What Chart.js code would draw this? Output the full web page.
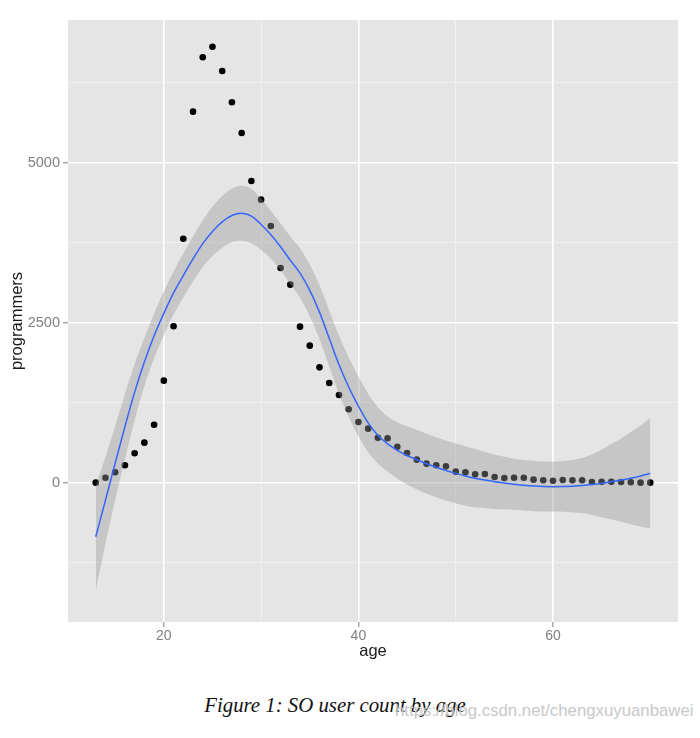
<!DOCTYPE html>
<html>
<head>
<meta charset="utf-8">
<script src="https://cdn.jsdelivr.net/npm/chart.js@4.4.1/dist/chart.umd.min.js"></script>
<style>
  body { margin: 0; background: #fff; width: 700px; height: 738px; position: relative; overflow: hidden; }
  #chart { position: absolute; left: 0; top: 0; }
  #caption { position: absolute; left: 0; width: 670px; top: 693px; text-align: center;
             font-family: "Liberation Serif", "DejaVu Serif", serif; font-style: italic; font-size: 20.8px; color: #111; }
  #mark { position: absolute; left: 395px; top: 701px; font-family: "Liberation Sans", Arial, sans-serif;
          font-size: 16.8px; color: #c8c8c8; }
</style>
</head>
<body>
<canvas id="chart" width="700" height="670"></canvas>
<div id="caption">Figure 1: SO user count by age</div>
<div id="mark">https://blog.csdn.net/chengxuyuanbawei</div>
<script>
// 나이별 사용자 수 (점)
const ages = [13, 14, 15, 16, 17, 18, 19, 20, 21, 22, 23, 24, 25, 26, 27, 28, 29, 30, 31, 32,
    33, 34, 35, 36, 37, 38, 39, 40, 41, 42, 43, 44, 45, 46, 47, 48, 49, 50, 51, 52,
    53, 54, 55, 56, 57, 58, 59, 60, 61, 62, 63, 64, 65, 66, 67, 68, 69, 70];
const programmers = [5, 83, 167, 276, 464, 630, 911, 1599, 2448, 3815, 5802, 6651, 6817, 6437, 5948, 5469, 4719, 4427, 4016, 3359,
    3099, 2443, 2146, 1807, 1562, 1375, 1151, 953, 849, 705, 698, 567, 469, 365, 302, 276, 260, 177, 167, 135,
    141, 94, 78, 83, 83, 52, 42, 36, 47, 42, 42, 16, 20, 20, 16, 11, 5, 5];

// loess 추세선과 신뢰구간 (같은 ages 기준)
const smoothLine = [-840, -270, 310, 880, 1420, 1890, 2300, 2650, 2970, 3240, 3500, 3740, 3930, 4080, 4180, 4215, 4170, 4040, 3880, 3690,
    3480, 3280, 3010, 2670, 2260, 1850, 1500, 1200, 940, 745, 610, 510, 430, 365, 300, 245, 195, 150, 110, 75,
    45, 20, 0, -20, -35, -47, -55, -57, -56, -50, -40, -25, -5, 20, 45, 75, 110, 150];
const bandUpper = [-50, 410, 890, 1390, 1860, 2270, 2650, 2990, 3305, 3580, 3850, 4105, 4315, 4485, 4600, 4645, 4595, 4440, 4255, 4055,
    3850, 3665, 3415, 3095, 2700, 2305, 1965, 1668, 1395, 1185, 1040, 950, 885, 830, 768, 713, 663, 616, 575, 530,
    485, 445, 410, 380, 360, 346, 335, 333, 339, 360, 390, 450, 525, 610, 695, 795, 900, 1010];
const bandLower = [-1680, -950, -270, 370, 980, 1510, 1950, 2310, 2635, 2900, 3150, 3375, 3545, 3675, 3760, 3785, 3745, 3640, 3505, 3325,
    3110, 2895, 2605, 2245, 1820, 1395, 1035, 732, 485, 305, 180, 70, -25, -100, -168, -223, -273, -316, -355, -380,
    -395, -405, -410, -420, -430, -440, -445, -447, -451, -460, -470, -500, -535, -570, -605, -645, -680, -710];

// 축 눈금 (주/보조)
const xTicks = [20, 30, 40, 50, 60];
const xLabeled = [20, 40, 60];
const yTicks = [-1250, 0, 1250, 2500, 3750, 5000, 6250];
const yLabeled = [0, 2500, 5000];

const toXY = vals => ages.map((a, i) => ({ x: a, y: vals[i] }));

// 패널 배경 (ggplot 회색)
const panelBg = {
    id: 'panelBg',
    beforeDraw(chart) {
        const { ctx, chartArea: a } = chart;
        ctx.save();
        ctx.fillStyle = '#E5E5E5';
        ctx.fillRect(a.left, a.top, a.right - a.left, a.bottom - a.top);
        ctx.restore();
    }
};

function gridOpts(labeled) {
    return {
        color: c => labeled.includes(c.tick.value) ? '#FFFFFF' : '#F2F2F2',
        lineWidth: c => labeled.includes(c.tick.value) ? 1.6 : 0.8,
        tickColor: c => labeled.includes(c.tick.value) ? '#7F7F7F' : 'rgba(0,0,0,0)',
        tickWidth: 1,
        tickLength: 5,
        drawTicks: true
    };
}

new Chart(document.getElementById('chart').getContext('2d'), {
    type: 'scatter',
    data: {
        datasets: [
            {
                label: 'programmers',
                data: toXY(programmers),
                pointRadius: 3.3,
                pointBackgroundColor: '#000',
                pointBorderWidth: 0,
                showLine: false,
                order: 3
            },
            {
                label: 'lower',
                data: toXY(bandLower),
                showLine: true,
                pointRadius: 0,
                borderWidth: 0,
                borderColor: 'rgba(0,0,0,0)',
                cubicInterpolationMode: 'monotone',
                fill: false,
                order: 2
            },
            {
                label: 'upper',
                data: toXY(bandUpper),
                showLine: true,
                pointRadius: 0,
                borderWidth: 0,
                borderColor: 'rgba(0,0,0,0)',
                backgroundColor: 'rgba(153,153,153,0.4)',
                cubicInterpolationMode: 'monotone',
                fill: '-1',
                order: 2
            },
            {
                label: 'smooth',
                data: toXY(smoothLine),
                showLine: true,
                pointRadius: 0,
                borderColor: '#3366FF',
                borderWidth: 1.5,
                cubicInterpolationMode: 'monotone',
                fill: false,
                order: 1
            }
        ]
    },
    options: {
        responsive: false,
        animation: false,
        layout: { padding: { top: 20, right: 22, left: 0, bottom: 0 } },
        plugins: { legend: { display: false }, tooltip: { enabled: false } },
        scales: {
            x: {
                type: 'linear',
                min: 10.15,
                max: 72.85,
                afterBuildTicks: s => { s.ticks = xTicks.map(v => ({ value: v })); },
                afterFit: s => { s.height = 48; },
                grid: gridOpts(xLabeled),
                border: { display: false },
                ticks: {
                    autoSkip: false,
                    maxRotation: 0,
                    padding: 1,
                    color: '#7F7F7F',
                    font: { family: 'Liberation Sans, Arial, sans-serif', size: 14 },
                    callback: v => xLabeled.includes(v) ? String(v) : ''
                },
                title: {
                    display: true,
                    text: 'age',
                    color: '#1a1a1a',
                    padding: { top: 0, bottom: 9 },
                    font: { family: 'Liberation Sans, Arial, sans-serif', size: 16.5 }
                }
            },
            y: {
                type: 'linear',
                min: -2172,
                max: 7234,
                afterBuildTicks: s => { s.ticks = yTicks.map(v => ({ value: v })); },
                afterFit: s => { s.width = 68; },
                grid: gridOpts(yLabeled),
                border: { display: false },
                ticks: {
                    autoSkip: false,
                    padding: 3,
                    color: '#7F7F7F',
                    font: { family: 'Liberation Sans, Arial, sans-serif', size: 14.5 },
                    callback: v => yLabeled.includes(v) ? String(v) : ''
                },
                title: {
                    display: true,
                    text: 'programmers',
                    color: '#1a1a1a',
                    padding: { top: 8, bottom: 0 },
                    font: { family: 'Liberation Sans, Arial, sans-serif', size: 16.5 }
                }
            }
        }
    },
    plugins: [panelBg]
});
</script>
</body>
</html>
